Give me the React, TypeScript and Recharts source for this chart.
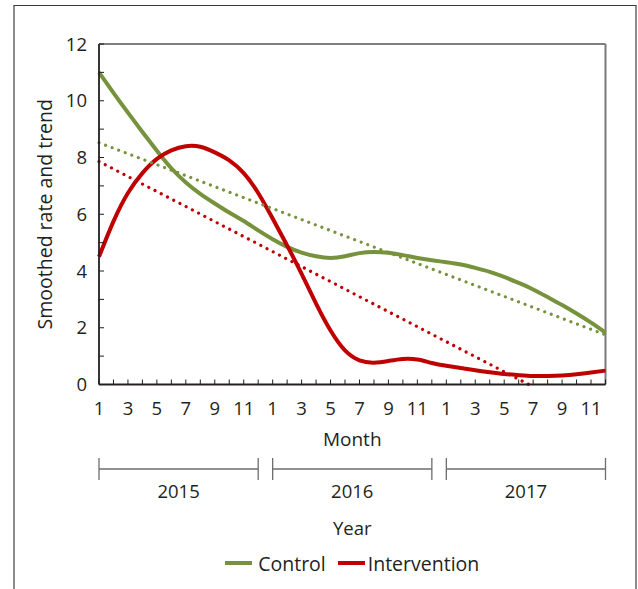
import { Legend, Line, LineChart, ReferenceLine, XAxis, YAxis } from "recharts";

// one value per month, Jan 2015 .. Dec 2017 (index 0..35)
const control = [
  11.0, 10.28, 9.58, 8.9, 8.24, 7.62, 7.12, 6.72, 6.38, 6.06, 5.76, 5.43,
  5.12, 4.85, 4.65, 4.52, 4.46, 4.52, 4.63, 4.67, 4.64, 4.56, 4.46, 4.38,
  4.31, 4.23, 4.11, 3.97, 3.79, 3.58, 3.35, 3.08, 2.8, 2.5, 2.18, 1.83,
];
const intervention = [
  4.5, 5.75, 6.75, 7.45, 7.95, 8.25, 8.4, 8.38, 8.18, 7.9, 7.45, 6.75,
  5.85, 4.9, 3.9, 2.85, 1.9, 1.2, 0.85, 0.77, 0.83, 0.9, 0.88, 0.76,
  0.66, 0.58, 0.5, 0.43, 0.37, 0.33, 0.3, 0.3, 0.32, 0.36, 0.42, 0.49,
];
// linear trends, read at their ends
const controlTrend = [
  { i: 0, v: 8.52 },
  { i: 35, v: 1.75 },
];
const interventionTrend = [
  { i: 0, v: 7.86 },
  { i: 29.7, v: 0 },
];
const years = ["2015", "2016", "2017"];
const yearCenters = [5.5, 17.5, 29.5];
const monthTicks = Array.from({ length: 36 }, (_, i) => i);
const yTicks = [0, 1, 2, 3, 4, 5, 6, 7, 8, 9, 10, 11, 12];
const legendItems = [
  { name: "Control", color: "#76923C" },
  { name: "Intervention", color: "#C00000" },
];

const rows = control.map((c, i) => ({ i, control: c, intervention: intervention[i] }));

const W = 638;
const H = 589;
const margin = { top: 44, right: 32.5, left: 0, bottom: 13 };
const Y_AXIS_W = 99;
const PLOT_W = W - margin.left - margin.right - Y_AXIS_W;
const FONT = "'Open Sans', sans-serif";
const INK = "#231f20";

function YLabel({ viewBox }: any) {
  const cx = viewBox.x + 44;
  const cy = viewBox.y + viewBox.height / 2;
  return (
    <text
      x={cx}
      y={cy}
      transform={`rotate(-90 ${cx} ${cy})`}
      textAnchor="middle"
      dominantBaseline="central"
      fontSize={19.5}
      fontFamily={FONT}
      fill={INK}
    >
      Smoothed rate and trend
    </text>
  );
}

function MonthLabel({ viewBox }: any) {
  return (
    <text x={viewBox.x + viewBox.width / 2} y={viewBox.y + 61.5} textAnchor="middle" fontSize={19} fontFamily={FONT} fill={INK}>
      Month
    </text>
  );
}

function YearLabel({ viewBox }: any) {
  return (
    <text x={viewBox.x + viewBox.width / 2} y={viewBox.y + 75.5} textAnchor="middle" fontSize={18.5} fontFamily={FONT} fill={INK}>
      Year
    </text>
  );
}

function YearTick({ x, y, index }: any) {
  const half = (PLOT_W / 35) * 5.5;
  const ly = y + 9.5;
  return (
    <g>
      <line x1={x - half} x2={x + half} y1={ly} y2={ly} stroke="#6d6d6d" strokeWidth={1.3} />
      <line x1={x - half} x2={x - half} y1={y - 1.5} y2={y + 20.5} stroke="#6d6d6d" strokeWidth={1.3} />
      <line x1={x + half} x2={x + half} y1={y - 1.5} y2={y + 20.5} stroke="#6d6d6d" strokeWidth={1.3} />
      <text x={x} y={y + 38} textAnchor="middle" fontSize={18.5} fontFamily={FONT} fill={INK}>
        {years[index]}
      </text>
    </g>
  );
}

function LegendContent() {
  return (
    <div
      style={{
        display: "flex",
        justifyContent: "center",
        alignItems: "center",
        height: 26,
        fontFamily: FONT,
        fontSize: 19.5,
        color: INK,
      }}
    >
      {legendItems.map((it, k) => (
        <span key={it.name} style={{ display: "flex", alignItems: "center", marginLeft: k ? 12 : 0 }}>
          <svg width={27} height={6}>
            <line x1={0} x2={27} y1={3} y2={3} stroke={it.color} strokeWidth={4} />
          </svg>
          <span style={{ marginLeft: k ? 3 : 6 }}>{it.name}</span>
        </span>
      ))}
    </div>
  );
}

export default function App() {
  return (
    <div style={{ position: "absolute", left: 0, top: 0, width: W, height: H, background: "#fff" }}>
      <div
        style={{
          position: "absolute",
          left: 13,
          top: 5,
          width: 620,
          height: 600,
          borderTop: "1.5px solid #3a3a3a",
          borderLeft: "2px solid #8c8c8c",
          borderRight: "2px solid #8c8c8c",
        }}
      />
      <LineChart width={W} height={H} data={rows} margin={margin} style={{ position: "absolute", left: 0, top: 0 }}>
        <XAxis
          dataKey="i"
          type="number"
          domain={[0, 35]}
          ticks={monthTicks}
          interval={0}
          tickFormatter={(i: number) => (i % 2 === 0 ? String((i % 12) + 1) : "")}
          tickSize={-5}
          tickMargin={22.5}
          height={75}
          axisLine={{ stroke: INK, strokeWidth: 1.8 }}
          tickLine={{ stroke: INK, strokeWidth: 1 }}
          tick={{ fill: INK, fontSize: 18.5, fontFamily: FONT }}
          label={<MonthLabel />}
        />
        <XAxis
          xAxisId="year"
          dataKey="i"
          type="number"
          domain={[0, 35]}
          ticks={yearCenters}
          interval={0}
          tickSize={0}
          tickMargin={0}
          height={90.5}
          axisLine={false}
          tickLine={false}
          tick={<YearTick />}
          label={<YearLabel />}
        />
        <YAxis
          type="number"
          domain={[0, 12]}
          ticks={yTicks}
          interval={0}
          tickFormatter={(v: number) => (v % 2 === 0 ? String(v) : "")}
          width={Y_AXIS_W}
          tickSize={-5}
          tickMargin={17}
          axisLine={{ stroke: INK, strokeWidth: 1.8 }}
          tickLine={{ stroke: INK, strokeWidth: 1 }}
          tick={{ fill: INK, fontSize: 18.5, fontFamily: FONT }}
          label={<YLabel />}
        />
        <ReferenceLine y={12} stroke="#555" strokeWidth={1.5} />
        <ReferenceLine x={35} stroke="#7a7a7a" strokeWidth={2} />
        <Line
          type="natural"
          dataKey="control"
          stroke="#76923C"
          strokeWidth={4}
          dot={false}
          activeDot={false}
          isAnimationActive={false}
        />
        <Line
          type="natural"
          dataKey="intervention"
          stroke="#C00000"
          strokeWidth={4}
          dot={false}
          activeDot={false}
          isAnimationActive={false}
        />
        <Line
          data={controlTrend}
          dataKey="v"
          type="linear"
          stroke="#76923C"
          strokeWidth={3.2}
          strokeDasharray="0.01 7"
          strokeLinecap="round"
          dot={false}
          activeDot={false}
          legendType="none"
          isAnimationActive={false}
        />
        <Line
          data={interventionTrend}
          dataKey="v"
          type="linear"
          stroke="#C00000"
          strokeWidth={3.2}
          strokeDasharray="0.01 7"
          strokeLinecap="round"
          dot={false}
          activeDot={false}
          legendType="none"
          isAnimationActive={false}
        />
        <Legend
          verticalAlign="bottom"
          content={<LegendContent />}
          wrapperStyle={{ left: margin.left + Y_AXIS_W, width: PLOT_W, height: 26 }}
        />
      </LineChart>
    </div>
  );
}
